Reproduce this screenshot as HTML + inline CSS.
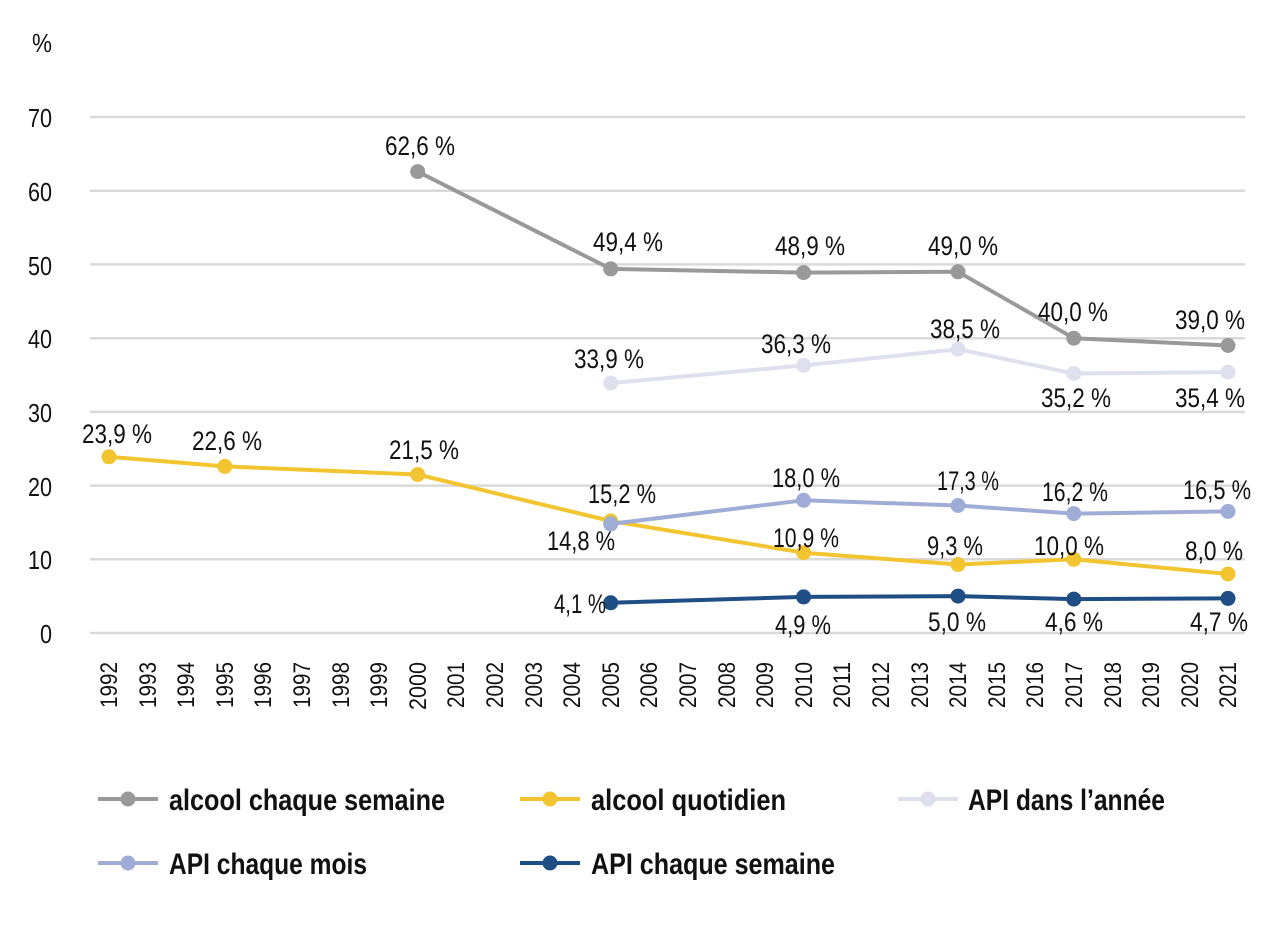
<!DOCTYPE html><html><head><meta charset="utf-8"><style>body{margin:0;background:#fff}text{font-family:"Liberation Sans",sans-serif;fill:#111}</style></head><body>
<svg width="1280" height="931" viewBox="0 0 1280 931" xmlns="http://www.w3.org/2000/svg">
<g stroke="#d9d9d9" stroke-width="2.5">
<line x1="90" x2="1245" y1="633" y2="633"/><line x1="90" x2="1245" y1="559.3" y2="559.3"/><line x1="90" x2="1245" y1="485.6" y2="485.6"/><line x1="90" x2="1245" y1="411.9" y2="411.9"/><line x1="90" x2="1245" y1="338.2" y2="338.2"/><line x1="90" x2="1245" y1="264.4" y2="264.4"/><line x1="90" x2="1245" y1="190.7" y2="190.7"/><line x1="90" x2="1245" y1="117" y2="117"/>
</g>
<g font-size="26" text-anchor="end" lengthAdjust="spacingAndGlyphs">
<text x="52" y="643" textLength="12" lengthAdjust="spacingAndGlyphs">0</text><text x="52" y="569" textLength="24" lengthAdjust="spacingAndGlyphs">10</text><text x="52" y="496" textLength="24" lengthAdjust="spacingAndGlyphs">20</text><text x="52" y="422" textLength="24" lengthAdjust="spacingAndGlyphs">30</text><text x="52" y="348" textLength="24" lengthAdjust="spacingAndGlyphs">40</text><text x="52" y="275" textLength="24" lengthAdjust="spacingAndGlyphs">50</text><text x="52" y="201" textLength="24" lengthAdjust="spacingAndGlyphs">60</text><text x="52" y="127" textLength="24" lengthAdjust="spacingAndGlyphs">70</text>
<text x="52" y="52" textLength="20" lengthAdjust="spacingAndGlyphs">%</text>
</g>
<g fill="none" stroke-width="4" stroke-linejoin="round">
<polyline stroke="#999" points="417.7,171.6 610.7,268.9 803.6,272.6 958,271.8 1073.8,338.2 1228,345.5"/>
<polyline stroke="#dfe0ee" points="610.7,383.1 803.6,365.4 958,349.2 1073.8,373.5 1228,372.1"/>
<polyline stroke="#f2c530" points="109,456.8 224.8,466.4 417.7,474.5 610.7,521 803.6,552.7 958,564.5 1073.8,559.3 1228,574"/>
<polyline stroke="#9fadd6" points="610.7,523.9 803.6,500.3 958,505.5 1073.8,513.6 1228,511.4"/>
<polyline stroke="#1f4e85" points="610.7,602.8 803.6,596.9 958,596.1 1073.8,599.1 1228,598.4"/>
</g>
<g fill="#999"><circle cx="417.7" cy="171.6" r="7.5"/><circle cx="610.7" cy="268.9" r="7.5"/><circle cx="803.6" cy="272.6" r="7.5"/><circle cx="958" cy="271.8" r="7.5"/><circle cx="1073.8" cy="338.2" r="7.5"/><circle cx="1228" cy="345.5" r="7.5"/></g>
<g fill="#dfe0ee"><circle cx="610.7" cy="383.1" r="7.5"/><circle cx="803.6" cy="365.4" r="7.5"/><circle cx="958" cy="349.2" r="7.5"/><circle cx="1073.8" cy="373.5" r="7.5"/><circle cx="1228" cy="372.1" r="7.5"/></g>
<g fill="#f2c530"><circle cx="109" cy="456.8" r="7.5"/><circle cx="224.8" cy="466.4" r="7.5"/><circle cx="417.7" cy="474.5" r="7.5"/><circle cx="610.7" cy="521" r="7.5"/><circle cx="803.6" cy="552.7" r="7.5"/><circle cx="958" cy="564.5" r="7.5"/><circle cx="1073.8" cy="559.3" r="7.5"/><circle cx="1228" cy="574" r="7.5"/></g>
<g fill="#9fadd6"><circle cx="610.7" cy="523.9" r="7.5"/><circle cx="803.6" cy="500.3" r="7.5"/><circle cx="958" cy="505.5" r="7.5"/><circle cx="1073.8" cy="513.6" r="7.5"/><circle cx="1228" cy="511.4" r="7.5"/></g>
<g fill="#1f4e85"><circle cx="610.7" cy="602.8" r="7.5"/><circle cx="803.6" cy="596.9" r="7.5"/><circle cx="958" cy="596.1" r="7.5"/><circle cx="1073.8" cy="599.1" r="7.5"/><circle cx="1228" cy="598.4" r="7.5"/></g>
<g font-size="27" text-anchor="middle">
<text x="420" y="155" textLength="70" lengthAdjust="spacingAndGlyphs">62,6 %</text><text x="628" y="251" textLength="70" lengthAdjust="spacingAndGlyphs">49,4 %</text><text x="810" y="255" textLength="70" lengthAdjust="spacingAndGlyphs">48,9 %</text><text x="963" y="255" textLength="70" lengthAdjust="spacingAndGlyphs">49,0 %</text><text x="1073" y="321" textLength="70" lengthAdjust="spacingAndGlyphs">40,0 %</text><text x="1210" y="329" textLength="70" lengthAdjust="spacingAndGlyphs">39,0 %</text>
<text x="609" y="368" textLength="70" lengthAdjust="spacingAndGlyphs">33,9 %</text><text x="796" y="353" textLength="70" lengthAdjust="spacingAndGlyphs">36,3 %</text><text x="965" y="338" textLength="70" lengthAdjust="spacingAndGlyphs">38,5 %</text><text x="1076" y="407" textLength="70" lengthAdjust="spacingAndGlyphs">35,2 %</text><text x="1210" y="407" textLength="70" lengthAdjust="spacingAndGlyphs">35,4 %</text>
<text x="117" y="443" textLength="70" lengthAdjust="spacingAndGlyphs">23,9 %</text><text x="227" y="450" textLength="70" lengthAdjust="spacingAndGlyphs">22,6 %</text><text x="424" y="459" textLength="70" lengthAdjust="spacingAndGlyphs">21,5 %</text><text x="622" y="503" textLength="68" lengthAdjust="spacingAndGlyphs">15,2 %</text><text x="581" y="550" textLength="68" lengthAdjust="spacingAndGlyphs">14,8 %</text>
<text x="806" y="487" textLength="68" lengthAdjust="spacingAndGlyphs">18,0 %</text><text x="968" y="490" textLength="62" lengthAdjust="spacingAndGlyphs">17,3 %</text><text x="1075" y="501" textLength="66" lengthAdjust="spacingAndGlyphs">16,2 %</text><text x="1217" y="499" textLength="68" lengthAdjust="spacingAndGlyphs">16,5 %</text>
<text x="806" y="547" textLength="66" lengthAdjust="spacingAndGlyphs">10,9 %</text><text x="955" y="555" textLength="56" lengthAdjust="spacingAndGlyphs">9,3 %</text><text x="1069" y="555" textLength="70" lengthAdjust="spacingAndGlyphs">10,0 %</text><text x="1214" y="560" textLength="58" lengthAdjust="spacingAndGlyphs">8,0 %</text>
<text x="580" y="613" textLength="52" lengthAdjust="spacingAndGlyphs">4,1 %</text><text x="803" y="634" textLength="56" lengthAdjust="spacingAndGlyphs">4,9 %</text><text x="957" y="631" textLength="58" lengthAdjust="spacingAndGlyphs">5,0 %</text><text x="1074" y="631" textLength="58" lengthAdjust="spacingAndGlyphs">4,6 %</text><text x="1219" y="631" textLength="58" lengthAdjust="spacingAndGlyphs">4,7 %</text>
</g>
<g font-size="24" text-anchor="end">
<text transform="translate(117,662) rotate(-90)" textLength="46" lengthAdjust="spacingAndGlyphs">1992</text><text transform="translate(156,662) rotate(-90)" textLength="46" lengthAdjust="spacingAndGlyphs">1993</text><text transform="translate(194,662) rotate(-90)" textLength="46" lengthAdjust="spacingAndGlyphs">1994</text><text transform="translate(233,662) rotate(-90)" textLength="46" lengthAdjust="spacingAndGlyphs">1995</text><text transform="translate(271,662) rotate(-90)" textLength="46" lengthAdjust="spacingAndGlyphs">1996</text><text transform="translate(310,662) rotate(-90)" textLength="46" lengthAdjust="spacingAndGlyphs">1997</text><text transform="translate(349,662) rotate(-90)" textLength="46" lengthAdjust="spacingAndGlyphs">1998</text><text transform="translate(387,662) rotate(-90)" textLength="46" lengthAdjust="spacingAndGlyphs">1999</text><text transform="translate(426,662) rotate(-90)" textLength="48" lengthAdjust="spacingAndGlyphs">2000</text><text transform="translate(464,662) rotate(-90)" textLength="46" lengthAdjust="spacingAndGlyphs">2001</text><text transform="translate(503,662) rotate(-90)" textLength="46" lengthAdjust="spacingAndGlyphs">2002</text><text transform="translate(542,662) rotate(-90)" textLength="46" lengthAdjust="spacingAndGlyphs">2003</text><text transform="translate(580,662) rotate(-90)" textLength="46" lengthAdjust="spacingAndGlyphs">2004</text><text transform="translate(619,662) rotate(-90)" textLength="46" lengthAdjust="spacingAndGlyphs">2005</text><text transform="translate(657,662) rotate(-90)" textLength="46" lengthAdjust="spacingAndGlyphs">2006</text><text transform="translate(696,662) rotate(-90)" textLength="46" lengthAdjust="spacingAndGlyphs">2007</text><text transform="translate(735,662) rotate(-90)" textLength="46" lengthAdjust="spacingAndGlyphs">2008</text><text transform="translate(773,662) rotate(-90)" textLength="46" lengthAdjust="spacingAndGlyphs">2009</text><text transform="translate(812,662) rotate(-90)" textLength="46" lengthAdjust="spacingAndGlyphs">2010</text><text transform="translate(850,662) rotate(-90)" textLength="46" lengthAdjust="spacingAndGlyphs">2011</text><text transform="translate(889,662) rotate(-90)" textLength="46" lengthAdjust="spacingAndGlyphs">2012</text><text transform="translate(928,662) rotate(-90)" textLength="46" lengthAdjust="spacingAndGlyphs">2013</text><text transform="translate(966,662) rotate(-90)" textLength="46" lengthAdjust="spacingAndGlyphs">2014</text><text transform="translate(1005,662) rotate(-90)" textLength="46" lengthAdjust="spacingAndGlyphs">2015</text><text transform="translate(1043,662) rotate(-90)" textLength="46" lengthAdjust="spacingAndGlyphs">2016</text><text transform="translate(1082,662) rotate(-90)" textLength="46" lengthAdjust="spacingAndGlyphs">2017</text><text transform="translate(1121,662) rotate(-90)" textLength="46" lengthAdjust="spacingAndGlyphs">2018</text><text transform="translate(1159,662) rotate(-90)" textLength="46" lengthAdjust="spacingAndGlyphs">2019</text><text transform="translate(1198,662) rotate(-90)" textLength="46" lengthAdjust="spacingAndGlyphs">2020</text><text transform="translate(1236,662) rotate(-90)" textLength="46" lengthAdjust="spacingAndGlyphs">2021</text>
</g>
<g stroke-width="4">
<line x1="98" x2="158" y1="799" y2="799" stroke="#999"/><circle cx="128" cy="799" r="7.5" fill="#999"/>
<line x1="520" x2="580" y1="799" y2="799" stroke="#f2c530"/><circle cx="550" cy="799" r="7.5" fill="#f2c530"/>
<line x1="898" x2="958" y1="799" y2="799" stroke="#dfe0ee"/><circle cx="928" cy="799" r="7.5" fill="#dfe0ee"/>
<line x1="98" x2="158" y1="863" y2="863" stroke="#9fadd6"/><circle cx="128" cy="863" r="7.5" fill="#9fadd6"/>
<line x1="520" x2="580" y1="863" y2="863" stroke="#1f4e85"/><circle cx="550" cy="863" r="7.5" fill="#1f4e85"/>
</g>
<g font-size="30" font-weight="bold">
<text x="169" y="810" textLength="276" lengthAdjust="spacingAndGlyphs">alcool chaque semaine</text><text x="591" y="810" textLength="195" lengthAdjust="spacingAndGlyphs">alcool quotidien</text><text x="968" y="810" textLength="197" lengthAdjust="spacingAndGlyphs">API dans l’année</text>
<text x="169" y="874" textLength="198" lengthAdjust="spacingAndGlyphs">API chaque mois</text><text x="591" y="874" textLength="244" lengthAdjust="spacingAndGlyphs">API chaque semaine</text>
</g>
</svg></body></html>
